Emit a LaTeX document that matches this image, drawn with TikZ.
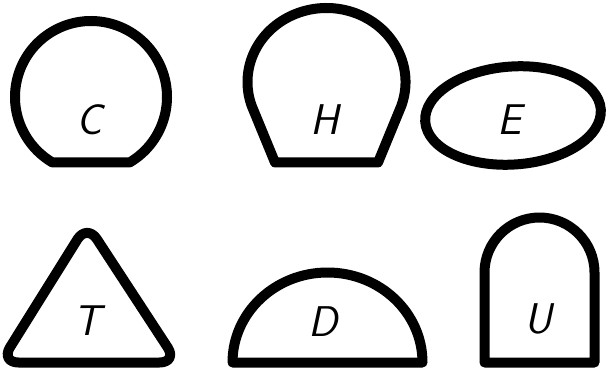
\documentclass[tikz,border=0pt]{standalone}
\begin{document}
\begin{tikzpicture}[x=1pt,y=1pt,
  outline/.style={line width=10pt, line join=round, line cap=round},
  lbl/.style={font=\fontsize{43}{43}\selectfont\sffamily\itshape, inner sep=0pt}]
\useasboundingbox (0,0) rectangle (607,-374);
% C
\draw[outline] (91,-97) ++(-59.5:76) arc[start angle=-59.5, end angle=239.5, radius=76] -- cycle;
% H
\draw[outline] (378,-162.5) -- (401.2,-106.1) arc[start angle=-19, end angle=199, x radius=79, y radius=74] -- (275,-162.5) -- cycle;
% E
\draw[outline, rotate around={4:(513,-115.5)}] (513,-115.5) ellipse[x radius=88, y radius=49];
% T
\draw[outline, rounded corners=18pt] (89,-362.5) -- (0.5,-362.5) -- (87,-224) -- (177.5,-362.5) -- cycle;
% D
\draw[outline] (422.5,-362.5) arc[start angle=0, end angle=180, x radius=95, y radius=90] -- cycle;
% U
\draw[outline] (484.5,-362.5) -- (484.5,-272.5) arc[start angle=180, end angle=0, radius=55] -- (594.5,-362.5) -- cycle;
% labels
\node[lbl] (lc) at (89,-120) {C};
\node[lbl] (lh) at (325,-120) {H};
\node[lbl] (le) at (510,-120) {E};
\node[lbl] (lt) at (87,-321) {T};
\node[lbl] (ld) at (323,-322) {D};
\node[lbl] (lu) at (538,-319) {U};
\end{tikzpicture}
\end{document}
